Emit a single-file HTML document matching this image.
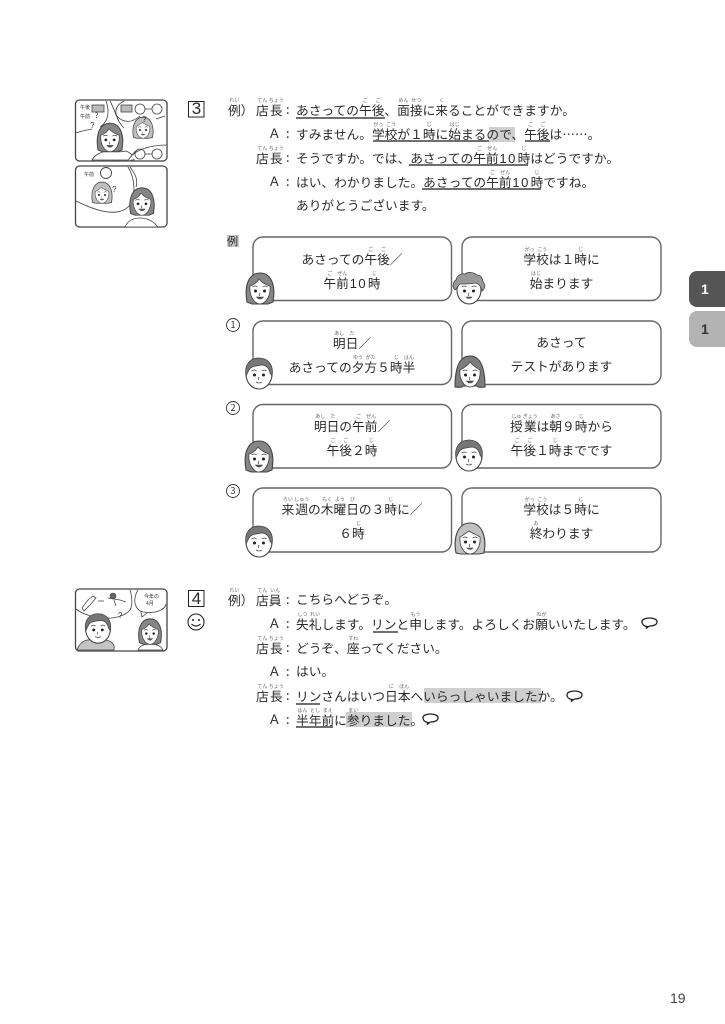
<!DOCTYPE html>
<html lang="ja"><head><meta charset="utf-8"><title>19</title>
<style>
html,body{margin:0;padding:0;background:#fff}
#p{position:relative;width:725px;height:1024px;overflow:hidden;background:#fff;color:#2a2a2a;font-family:"Liberation Sans","Noto Sans CJK JP",sans-serif}
.t{position:absolute;height:24px;line-height:24px;margin-top:-1px;white-space:nowrap;font-size:12.72px;font-family:"Noto Sans CJK JP","Liberation Sans",sans-serif}
.c{text-align:center}
.l{left:253px;width:198px}
.r{left:462px;width:199px}
rt{font-size:5px;line-height:5px;color:#666;text-align:center}
.n{display:inline-block;width:19px;text-align:center;letter-spacing:1.5px;font-size:13px;font-family:"Liberation Sans",sans-serif}
.h{position:absolute;background:#cfcfcf}
.u{position:absolute;height:1.6px;background:#707070}
svg{position:absolute;left:0;top:0}
.tab{position:absolute;left:689px;width:36px;height:36px;border-radius:8px 0 0 8px;color:#fff;font:bold 14px/36px "Liberation Sans",sans-serif;text-indent:12px}
</style></head><body><div id="p">

<div class="h" style="left:489px;top:127px;width:26px;height:15px"></div>
<div class="h" style="left:424px;top:688px;width:117px;height:15px"></div>
<div class="h" style="left:346px;top:712px;width:66px;height:15px"></div>

<svg width="725" height="1024" viewBox="0 0 725 1024" fill="none" stroke="#444" stroke-width="1.1">
<defs>
<g id="eyes"><circle cx="-4.5" cy="0" r="1.5" fill="#222" stroke="none"/><circle cx="4.5" cy="0" r="1.5" fill="#222" stroke="none"/><path d="M-7.5 -4q3 -2 5 0M2.500 -4q3 -2 5 0" stroke-width=".7"/><path d="M0 2q-1.500 2 0 3" stroke-width=".7"/></g>
<g id="w1"><path d="M-13 13C-16 -4 -11 -16 0 -16S16 -4 13 13L8 15H-8Z" fill="#868686" stroke="#444"/><path d="M-10 -3C-6 -4 -3 -7 -1 -10C2 -6 7 -4 10 -3C11 6 6 15 0 15S-11 6 -10 -3Z" fill="#fff" stroke="#444" stroke-width=".8"/><use href="#eyes" y="2"/><path d="M-3.500 8q3.500 4 7 0z" fill="#555" stroke-width=".6"/></g>
<g id="m1"><ellipse cx="0" cy="1" rx="13" ry="15" fill="#fff" stroke="#444"/><path d="M-13 3C-15 -8 -9 -15 0 -15S15 -8 13 3L11 0C10 -5 7 -8 2 -8C-3 -7 -8 -7 -10 -3Z" fill="#777" stroke="#444" stroke-width=".8"/><use href="#eyes" y="2"/><path d="M-3 9q3 2 6 0" stroke-width=".8"/></g>
<g id="cu"><ellipse cx="0" cy="2" rx="12" ry="14" fill="#fff" stroke="#444"/><path d="M-14 2C-18 -2 -15 -7 -13 -8C-12 -13 -7 -15 -4 -14C0 -17 6 -15 8 -13C12 -13 14 -9 14 -6C17 -3 16 1 13 3C12 -2 9 -5 6 -5C2 -4 -6 -4 -9 -4C-11 -2 -12 0 -14 2Z" fill="#999" stroke="#444" stroke-width=".8"/><use href="#eyes" y="3"/><path d="M-3 9q3 3 6 0z" fill="#555" stroke-width=".6"/></g>
<g id="lh"><path d="M-15 15C-15 2 -13 -16 0 -16S15 2 15 15Q8 16 7 14H-7Q-8 16 -15 15Z" fill="#7d7d7d" stroke="#444"/><path d="M-10 -2C-6 -4 -2 -7 0 -10C3 -6 7 -4 10 -2C11 7 6 15 0 15S-11 7 -10 -2Z" fill="#fff" stroke="#444" stroke-width=".8"/><use href="#eyes" y="3"/><path d="M-3.500 9q3.500 4 7 0z" fill="#555" stroke-width=".6"/></g>
<g id="lw"><path d="M-14 14C-17 -2 -12 -16 0 -16S17 -2 14 14L9 15H-9Z" fill="#c0c0c0" stroke="#444"/><path d="M-10 -2C-6 -4 -3 -7 -1 -8C2 -6 7 -4 10 -2C11 7 6 15 0 15S-11 7 -10 -2Z" fill="#fff" stroke="#444" stroke-width=".8"/><use href="#eyes" y="3"/><path d="M-3 9q3 3 6 0z" fill="#555" stroke-width=".6"/></g>
<path id="bb" d="M1 8.500C-3 8 -4 5.500 -4 4C-4 1 0 0 3.500 0S11 1 11 4S7 8 3.500 8L0 10.500Z" stroke="#222" stroke-width="1.300" fill="#fff"/>
</defs>

<g stroke="#666" stroke-width="1.4" fill="#fff">
<rect x="253" y="237" width="198.500" height="63.500" rx="10"/><rect x="462" y="237" width="199" height="63.500" rx="10"/>
<rect x="253" y="321" width="198.500" height="63.500" rx="10"/><rect x="462" y="321" width="199" height="63.500" rx="10"/>
<rect x="253" y="404.500" width="198.500" height="63.500" rx="10"/><rect x="462" y="404.500" width="199" height="63.500" rx="10"/>
<rect x="253" y="488" width="198.500" height="64" rx="10"/><rect x="462" y="488" width="199" height="64" rx="10"/>
</g>
<use href="#w1" x="260" y="289"/><use href="#cu" x="469" y="288"/>
<use href="#m1" x="259" y="373"/><use href="#lh" x="470" y="372"/>
<use href="#w1" x="259" y="457"/><use href="#m1" x="469" y="455"/>
<use href="#m1" x="259" y="541"/><use href="#lw" x="470" y="539"/>

<g stroke="#222" stroke-width="1"><rect x="188.500" y="101.500" width="15.500" height="15.500"/><rect x="188.500" y="590.500" width="15.500" height="16"/></g>
<rect x="227" y="235" width="12" height="12" fill="#c8c8c8" stroke="none"/>
<g stroke="#333" stroke-width=".9"><circle cx="233" cy="325" r="6.500"/><circle cx="233" cy="408" r="6.500"/><circle cx="233" cy="491" r="6.500"/></g>
<circle cx="196" cy="622" r="8" stroke="#222" stroke-width="1.100"/>
<circle cx="193" cy="620" r="1" fill="#222" stroke="none"/><circle cx="199" cy="620" r="1" fill="#222" stroke="none"/><path d="M191.500 624q4.500 4 9 0" stroke="#222"/>

<use href="#bb" x="646" y="618"/><use href="#bb" x="571" y="691"/><use href="#bb" x="427" y="714"/>

<!-- illustration 1 -->
<rect x="75.500" y="100" width="91.500" height="61" rx="4" stroke="#444" stroke-width="1.300" fill="#fff"/>
<path d="M106 101C110 112 108 122 100 127M110 101C116 112 117 122 124 128M124 101C114 106 113 116 122 120C128 123 134 121 140 116M165 116L156 119" stroke-width=".8"/>
<path d="M76 133C84 130 88 130 92 129" stroke-width=".8"/>
<path d="M92 160C96 153 104 151 110 151C116 152 122 152 126 151C131 153 134 156 134 160Z" fill="#fff" stroke-width=".8"/>
<use href="#w1" transform="translate(110 138) scale(.92)"/>
<g stroke-width=".8"><rect x="92" y="105" width="12" height="7" fill="#bbb"/><circle cx="140" cy="109" r="5"/><circle cx="157" cy="109" r="5"/><path d="M145 109h7"/><rect x="121" y="105" width="11" height="7" fill="#bbb"/></g>
<use href="#lw" transform="translate(143 128) scale(.68)"/>
<path d="M130 161C131 156 134 152 137 150" stroke-width=".8"/>
<path d="M167 145C150 145 133 150 128 161" fill="#fff" stroke-width=".8"/>
<g stroke-width=".8"><circle cx="140" cy="154" r="5"/><circle cx="157" cy="154" r="5"/><path d="M145 154h7"/></g>
<!-- illustration 2 -->
<rect x="75.500" y="166" width="91.500" height="61" rx="4" stroke="#444" stroke-width="1.300" fill="#fff"/>
<path d="M76 201C90 208 118 220 130 205C136 195 135 178 128 167" stroke-width=".8"/><path d="M130 167C136 175 138 180 136 187" stroke-width=".8"/>
<circle cx="106" cy="173" r="5.500" stroke-width=".9"/>
<use href="#lw" transform="translate(102 193) scale(.68)"/>
<path d="M125 227C128 220 134 218 140 218C148 218 154 222 158 227Z" fill="#fff" stroke-width=".8"/>
<use href="#w1" transform="translate(142 202) scale(.88)"/>
<!-- illustration 3 -->
<rect x="75.500" y="589" width="91.500" height="62" rx="4" stroke="#444" stroke-width="1.300" fill="#fff"/>
<path d="M76 609C90 620 120 622 130 610C133 605 132 596 130 590M138 590C132 600 135 610 143 612C155 614 165 610 166 604M141 612L142 617L147 613" stroke-width=".8"/>
<path d="M82 608L88 600L93 596L96 598L90 605L84 611ZM98 601H104" stroke-width=".8"/>
<circle cx="113" cy="596" r="3" fill="#666" stroke-width=".6"/><path d="M108 598L120 600L126 602M114 600L116 606" stroke-width=".8"/>
<path d="M77 650C80 641 88 638 94 641L106 640C114 642 115 646 114 650Z" fill="#c4c4c4" stroke-width=".8"/>
<use href="#m1" transform="translate(98 628) scale(.95)"/>
<path d="M138 650C140 645 146 644 150 644C156 644 161 646 163 650Z" fill="#fff" stroke-width=".8"/>
<use href="#w1" transform="translate(150 632) scale(.82)"/>
<g fill="#333" stroke="none" font-family="Liberation Sans,sans-serif" font-size="8"><text x="142" y="122">?</text><text x="90" y="128">?</text><text x="112" y="192">?</text><text x="118" y="618">?</text></g>
</svg>

<div class="t" style="left:189px;top:98px;width:15px;text-align:center;font:17px/24px 'Liberation Sans',sans-serif">3</div>
<div class="t" style="left:189px;top:588px;width:15px;text-align:center;font:17px/24px 'Liberation Sans',sans-serif">4</div>

<!-- section 3 -->
<div class="t" style="left:228px;top:98px"><ruby>例<rt>れい</rt></ruby>）</div>
<div class="t" style="left:256px;top:98px"><ruby>店<rt>てん</rt></ruby><ruby>長<rt>ちょう</rt></ruby></div>
<div class="t" style="left:286px;top:98px">:</div>
<div class="t" style="left:296px;top:98px">あさっての<ruby>午<rt>ご</rt></ruby><ruby>後<rt>ご</rt></ruby>、<ruby>面<rt>めん</rt></ruby><ruby>接<rt>せつ</rt></ruby>に<ruby>来<rt>く</rt></ruby>ることができますか。</div>
<div class="u" style="left:296px;top:117px;width:89px"></div>

<div class="t" style="left:268px;top:122px">Ａ</div><div class="t" style="left:286px;top:122px">:</div>
<div class="t" style="left:296px;top:122px">すみません。<ruby>学<rt>がっ</rt></ruby><ruby>校<rt>こう</rt></ruby>が１<ruby>時<rt>じ</rt></ruby>に<ruby>始<rt>はじ</rt></ruby>まるので、<ruby>午<rt>ご</rt></ruby><ruby>後<rt>ご</rt></ruby>は……。</div>
<div class="u" style="left:373px;top:140px;width:116px"></div><div class="u" style="left:525px;top:140px;width:25px"></div>

<div class="t" style="left:256px;top:146px"><ruby>店<rt>てん</rt></ruby><ruby>長<rt>ちょう</rt></ruby></div><div class="t" style="left:286px;top:146px">:</div>
<div class="t" style="left:296px;top:146px">そうですか。では、あさっての<ruby>午<rt>ご</rt></ruby><ruby>前<rt>ぜん</rt></ruby><span class="n">10</span><ruby>時<rt>じ</rt></ruby>はどうですか。</div>
<div class="u" style="left:409px;top:164px;width:119px"></div>

<div class="t" style="left:268px;top:170px">Ａ</div><div class="t" style="left:286px;top:170px">:</div>
<div class="t" style="left:296px;top:170px">はい、わかりました。あさっての<ruby>午<rt>ご</rt></ruby><ruby>前<rt>ぜん</rt></ruby><span class="n">10</span><ruby>時<rt>じ</rt></ruby>ですね。</div>
<div class="u" style="left:422px;top:188px;width:119px"></div>

<div class="t" style="left:296px;top:194px">ありがとうございます。</div>

<div class="t" style="left:227px;top:230px;font-size:11px">例</div>
<div class="t" style="left:228px;top:314px;width:10px;text-align:center;font-size:9px">1</div>
<div class="t" style="left:228px;top:397px;width:10px;text-align:center;font-size:9px">2</div>
<div class="t" style="left:228px;top:480px;width:10px;text-align:center;font-size:9px">3</div>

<div class="t c l" style="top:247px">あさっての<ruby>午<rt>ご</rt></ruby><ruby>後<rt>ご</rt></ruby>／</div>
<div class="t c l" style="top:271px"><ruby>午<rt>ご</rt></ruby><ruby>前<rt>ぜん</rt></ruby><span class="n">10</span><ruby>時<rt>じ</rt></ruby></div>
<div class="t c r" style="top:247px"><ruby>学<rt>がっ</rt></ruby><ruby>校<rt>こう</rt></ruby>は１<ruby>時<rt>じ</rt></ruby>に</div>
<div class="t c r" style="top:271px"><ruby>始<rt>はじ</rt></ruby>まります</div>

<div class="t c l" style="top:331px"><ruby>明<rt>あし</rt></ruby><ruby>日<rt>た</rt></ruby>／</div>
<div class="t c l" style="top:355px">あさっての<ruby>夕<rt>ゆう</rt></ruby><ruby>方<rt>がた</rt></ruby>５<ruby>時<rt>じ</rt></ruby><ruby>半<rt>はん</rt></ruby></div>
<div class="t c r" style="top:331px">あさって</div>
<div class="t c r" style="top:355px">テストがあります</div>

<div class="t c l" style="top:414px"><ruby>明<rt>あし</rt></ruby><ruby>日<rt>た</rt></ruby>の<ruby>午<rt>ご</rt></ruby><ruby>前<rt>ぜん</rt></ruby>／</div>
<div class="t c l" style="top:438px"><ruby>午<rt>ご</rt></ruby><ruby>後<rt>ご</rt></ruby>２<ruby>時<rt>じ</rt></ruby></div>
<div class="t c r" style="top:414px"><ruby>授<rt>じゅ</rt></ruby><ruby>業<rt>ぎょう</rt></ruby>は<ruby>朝<rt>あさ</rt></ruby>９<ruby>時<rt>じ</rt></ruby>から</div>
<div class="t c r" style="top:438px"><ruby>午<rt>ご</rt></ruby><ruby>後<rt>ご</rt></ruby>１<ruby>時<rt>じ</rt></ruby>までです</div>

<div class="t c l" style="top:497px"><ruby>来<rt>らい</rt></ruby><ruby>週<rt>しゅう</rt></ruby>の<ruby>木<rt>もく</rt></ruby><ruby>曜<rt>よう</rt></ruby><ruby>日<rt>び</rt></ruby>の３<ruby>時<rt>じ</rt></ruby>に／</div>
<div class="t c l" style="top:521px">６<ruby>時<rt>じ</rt></ruby></div>
<div class="t c r" style="top:497px"><ruby>学<rt>がっ</rt></ruby><ruby>校<rt>こう</rt></ruby>は５<ruby>時<rt>じ</rt></ruby>に</div>
<div class="t c r" style="top:521px"><ruby>終<rt>お</rt></ruby>わります</div>

<!-- section 4 -->
<div class="t" style="left:228px;top:588px"><ruby>例<rt>れい</rt></ruby>）</div>
<div class="t" style="left:256px;top:588px"><ruby>店<rt>てん</rt></ruby><ruby>員<rt>いん</rt></ruby></div><div class="t" style="left:286px;top:588px">:</div>
<div class="t" style="left:296px;top:588px">こちらへどうぞ。</div>

<div class="t" style="left:268px;top:612px">Ａ</div><div class="t" style="left:286px;top:612px">:</div>
<div class="t" style="left:296px;top:612px"><ruby>失<rt>しつ</rt></ruby><ruby>礼<rt>れい</rt></ruby>します。リンと<ruby>申<rt>もう</rt></ruby>します。よろしくお<ruby>願<rt>ねが</rt></ruby>いいたします。</div>
<div class="u" style="left:373px;top:631px;width:25px"></div>

<div class="t" style="left:256px;top:636px"><ruby>店<rt>てん</rt></ruby><ruby>長<rt>ちょう</rt></ruby></div><div class="t" style="left:286px;top:636px">:</div>
<div class="t" style="left:296px;top:636px">どうぞ、<ruby>座<rt>すわ</rt></ruby>ってください。</div>

<div class="t" style="left:268px;top:660px">Ａ</div><div class="t" style="left:286px;top:660px">:</div>
<div class="t" style="left:296px;top:660px">はい。</div>

<div class="t" style="left:256px;top:684px"><ruby>店<rt>てん</rt></ruby><ruby>長<rt>ちょう</rt></ruby></div><div class="t" style="left:286px;top:684px">:</div>
<div class="t" style="left:296px;top:684px">リンさんはいつ<ruby>日<rt>に</rt></ruby><ruby>本<rt>ほん</rt></ruby>へいらっしゃいましたか。</div>
<div class="u" style="left:296px;top:703px;width:24px"></div>

<div class="t" style="left:268px;top:708px">Ａ</div><div class="t" style="left:286px;top:708px">:</div>
<div class="t" style="left:296px;top:708px"><ruby>半<rt>はん</rt></ruby><ruby>年<rt>とし</rt></ruby><ruby>前<rt>まえ</rt></ruby>に<ruby>参<rt>まい</rt></ruby>りました。</div>
<div class="u" style="left:296px;top:726px;width:37px"></div>

<!-- illustration labels -->
<div class="t" style="left:80px;top:97px;font-size:5px">午後</div>
<div class="t" style="left:80px;top:106px;font-size:5px">午前</div>
<div class="t" style="left:95px;top:105px;font-size:7px">?</div>
<div class="t" style="left:84px;top:164px;font-size:5px">午前</div>
<div class="t" style="left:144px;top:586px;font-size:5px">今年の</div>
<div class="t" style="left:146px;top:593px;font-size:5px">4月</div>

<div class="tab" style="top:271px;background:#555">1</div>
<div class="tab" style="top:311px;background:#b3b3b3;color:#333">1</div>
<div class="t" style="left:670px;top:987px;font:14px/24px 'Liberation Sans',sans-serif;color:#444">19</div>
</div></body></html>
